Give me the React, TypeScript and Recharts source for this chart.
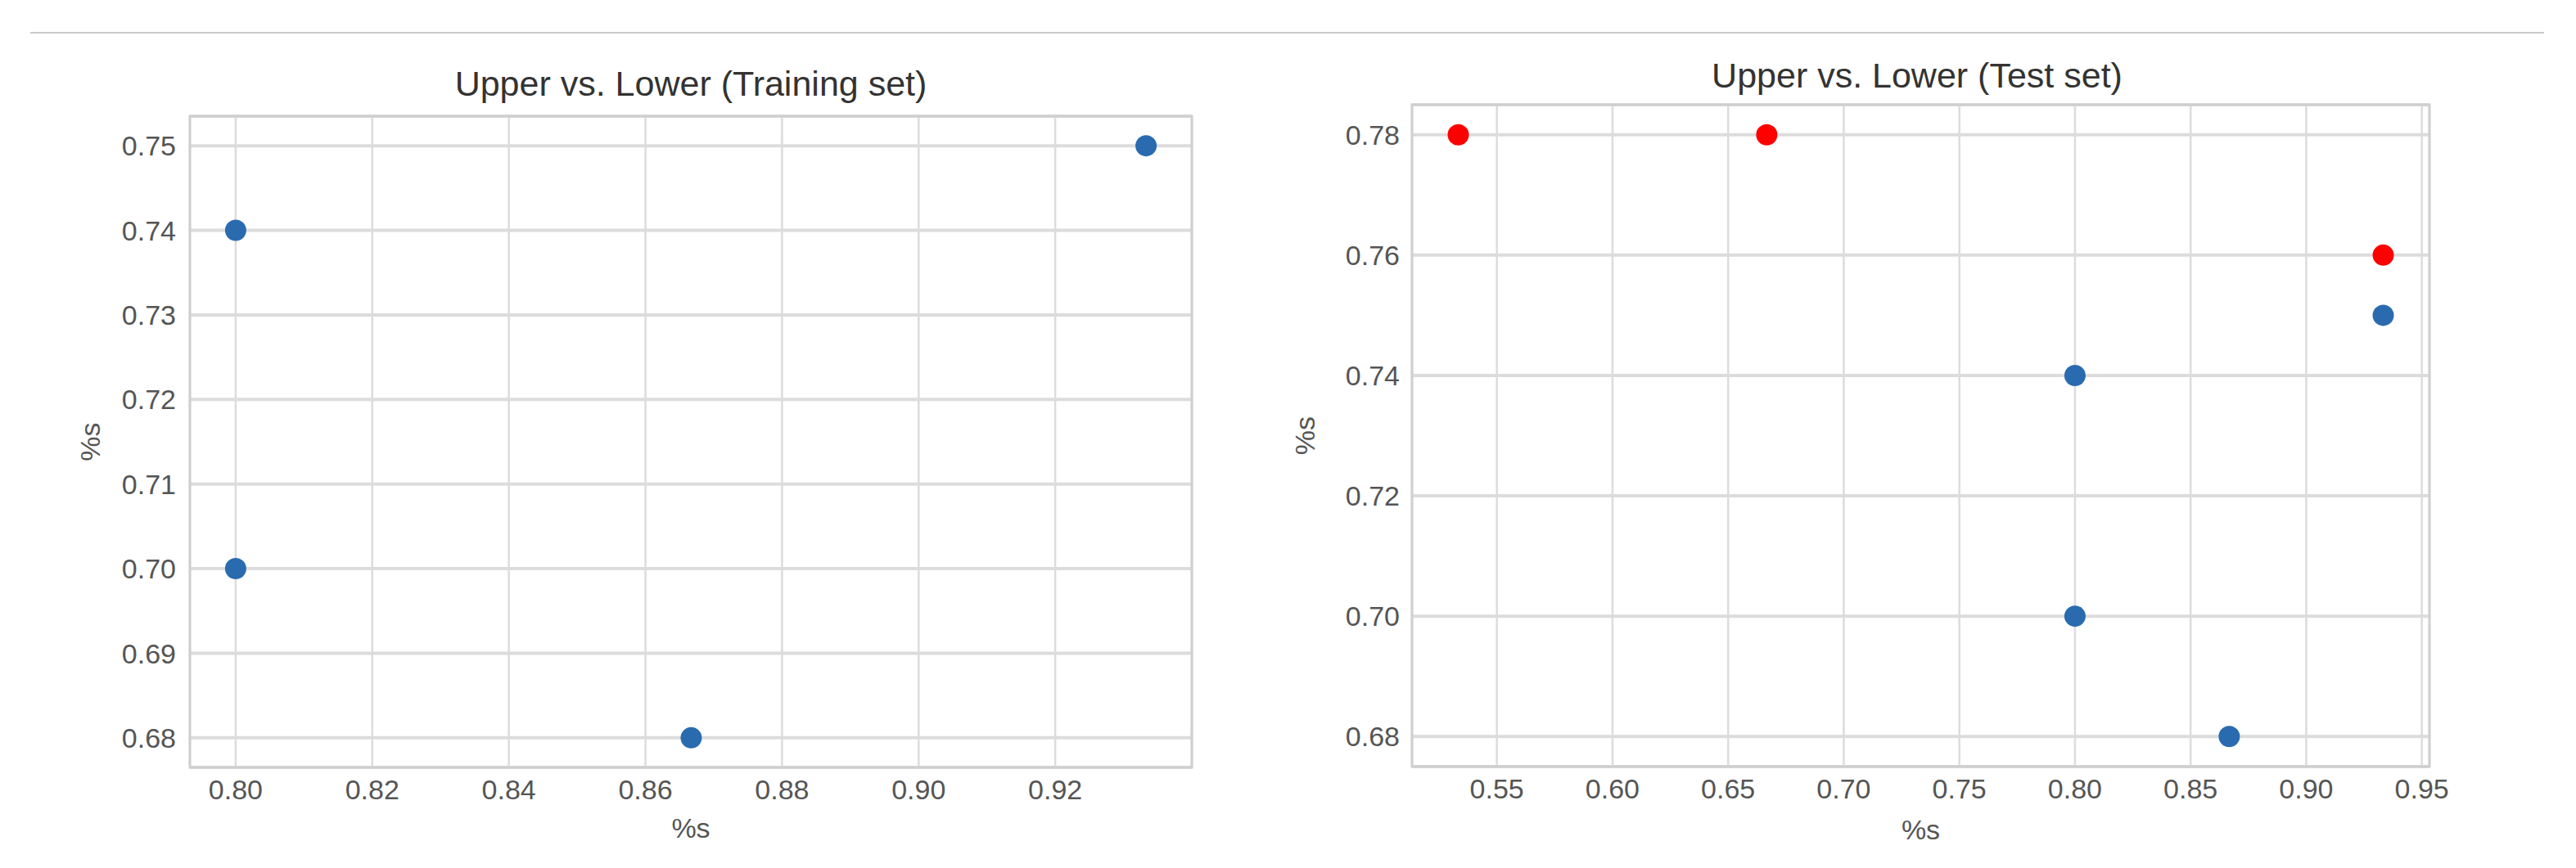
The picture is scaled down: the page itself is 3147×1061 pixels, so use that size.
import {
  CartesianGrid,
  ReferenceArea,
  Scatter,
  ScatterChart,
  XAxis,
  YAxis,
} from "recharts";

// training set
const trainX = [0.8, 0.8, 0.8667, 0.9333];
const trainY = [0.74, 0.7, 0.68, 0.75];

// test set: blue = same points, red = extra points
const testBlueX = [0.8, 0.8, 0.8667, 0.9333];
const testBlueY = [0.74, 0.7, 0.68, 0.75];
const testRedX = [0.5333, 0.6667, 0.9333];
const testRedY = [0.78, 0.78, 0.76];

const trainXTicks = [0.8, 0.82, 0.84, 0.86, 0.88, 0.9, 0.92];
const trainYTicks = [0.68, 0.69, 0.7, 0.71, 0.72, 0.73, 0.74, 0.75];
const testXTicks = [0.55, 0.6, 0.65, 0.7, 0.75, 0.8, 0.85, 0.9, 0.95];
const testYTicks = [0.68, 0.7, 0.72, 0.74, 0.76, 0.78];

const trainXDomain = [0.7933, 0.94];
const trainYDomain = [0.6765, 0.7535];
const testXDomain = [0.5133, 0.9533];
const testYDomain = [0.675, 0.785];

const BLUE = "#2a6bb0";
const RED = "#ff0000";
const FONT = "'Liberation Sans', Arial, sans-serif";
const GRID = "#dcdcdc";

const toPoints = (xs: number[], ys: number[]) => xs.map((x, i) => ({ x, y: ys[i] }));

const dot = (color: string) => (props: any) =>
  <circle cx={props.cx} cy={props.cy} r={13} fill={color} />;

const fmt = (v: number) => v.toFixed(2);
const tickStyle = { fill: "#555", fontSize: 34, fontFamily: FONT };

interface PanelProps {
  left: number;
  width: number;
  margin: { top: number; right: number; bottom: number; left: number };
  yAxisWidth: number;
  xAxisHeight: number;
  xDomain: number[];
  yDomain: number[];
  xTicks: number[];
  yTicks: number[];
  yTickMargin: number;
  xLabelOffset: number;
  series: { data: { x: number; y: number }[]; color: string }[];
}

function Panel(p: PanelProps) {
  return (
    <div style={{ position: "absolute", left: p.left, top: 0 }}>
      <ScatterChart width={p.width} height={1061} margin={p.margin}>
        <CartesianGrid horizontal={false} stroke={GRID} strokeWidth={2.5} />
        <CartesianGrid vertical={false} stroke={GRID} strokeWidth={4} />
        <XAxis
          type="number"
          dataKey="x"
          domain={p.xDomain}
          ticks={p.xTicks}
          allowDataOverflow
          tickFormatter={fmt}
          tick={tickStyle}
          tickLine={false}
          axisLine={false}
          tickSize={0}
          tickMargin={15}
          height={p.xAxisHeight}
          interval={0}
          label={{
            value: "%s",
            position: "insideBottom",
            offset: p.xLabelOffset,
            fill: "#555",
            fontSize: 34,
            fontFamily: FONT,
          }}
        />
        <YAxis
          type="number"
          dataKey="y"
          domain={p.yDomain}
          ticks={p.yTicks}
          allowDataOverflow
          tickFormatter={fmt}
          tick={tickStyle}
          tickLine={false}
          axisLine={false}
          tickSize={0}
          tickMargin={p.yTickMargin}
          width={p.yAxisWidth}
          interval={0}
          label={{
            value: "%s",
            position: "center",
            angle: -90,
            fill: "#555",
            fontSize: 34,
            fontFamily: FONT,
          }}
        />
        <ReferenceArea
          x1={p.xDomain[0]}
          x2={p.xDomain[1]}
          y1={p.yDomain[0]}
          y2={p.yDomain[1]}
          fill="none"
          stroke="#cfcfcf"
          strokeWidth={3}
          ifOverflow="visible"
        />
        {p.series.map((s, i) => (
          <Scatter
            key={i}
            data={s.data}
            shape={dot(s.color)}
            isAnimationActive={false}
          />
        ))}
      </ScatterChart>
    </div>
  );
}

const titleStyle = (top: number, center: number): React.CSSProperties => ({
  position: "absolute",
  top,
  left: center - 500,
  width: 1000,
  textAlign: "center",
  fontFamily: FONT,
  fontSize: 43,
  lineHeight: "43px",
  color: "#333",
  whiteSpace: "nowrap",
});

export default function App() {
  return (
    <div
      style={{
        position: "relative",
        width: 3147,
        height: 1061,
        background: "#fff",
        overflow: "hidden",
      }}
    >
      <style>{`body{margin:0}`}</style>
      <div
        style={{
          position: "absolute",
          top: 39,
          left: 37,
          width: 3071,
          height: 2,
          background: "#cacaca",
        }}
      />
      <Panel
        left={-20}
        width={1520}
        margin={{ top: 142, right: 44, bottom: 0, left: 8 }}
        yAxisWidth={244}
        xAxisHeight={123}
        xDomain={trainXDomain}
        yDomain={trainYDomain}
        xTicks={trainXTicks}
        yTicks={trainYTicks}
        yTickMargin={17}
        xLabelOffset={37}
        series={[{ data: toPoints(trainX, trainY), color: BLUE }]}
      />
      <Panel
        left={1450}
        width={1600}
        margin={{ top: 128, right: 82, bottom: 0, left: 13 }}
        yAxisWidth={262}
        xAxisHeight={124}
        xDomain={testXDomain}
        yDomain={testYDomain}
        xTicks={testXTicks}
        yTicks={testYTicks}
        yTickMargin={15}
        xLabelOffset={35}
        series={[
          { data: toPoints(testBlueX, testBlueY), color: BLUE },
          { data: toPoints(testRedX, testRedY), color: RED },
        ]}
      />
      <div style={titleStyle(81, 844)}>Upper vs. Lower (Training set)</div>
      <div style={titleStyle(71, 2342)}>Upper vs. Lower (Test set)</div>
    </div>
  );
}
